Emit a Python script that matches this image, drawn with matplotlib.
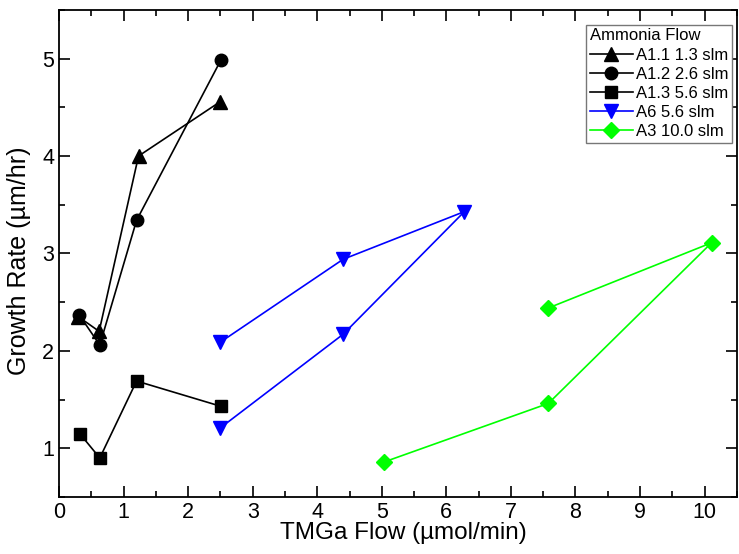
import matplotlib
matplotlib.use("Agg")
import matplotlib.pyplot as plt
from matplotlib.ticker import MultipleLocator

plt.rcParams['font.family'] = ['Liberation Sans', 'DejaVu Sans']

# TMGa flow (umol/min) and growth rate (um/hr) for each run
a11_x = [0.30, 0.62, 1.23, 2.50]
a11_y = [2.35, 2.20, 4.00, 4.56]

a12_x = [0.31, 0.63, 1.20, 2.51]
a12_y = [2.37, 2.06, 3.34, 4.99]

a13_x = [0.32, 0.63, 1.20, 2.51]
a13_y = [1.15, 0.90, 1.69, 1.43]

a6_x = [2.50, 4.40, 6.28, 4.40, 2.50]
a6_y = [2.09, 2.94, 3.43, 2.17, 1.21]

a3_x = [7.58, 10.11, 7.58, 5.04]
a3_y = [2.44, 3.11, 1.46, 0.86]

labels = ["A1.1 1.3 slm", "A1.2 2.6 slm", "A1.3 5.6 slm", "A6 5.6 slm", "A3 10.0 slm"]

fig = plt.figure(figsize=(7.39, 5.54), dpi=100)
ax = fig.add_axes([0.080, 0.103, 0.917, 0.879])

lw = 1.2
ax.plot(a11_x, a11_y, '-^', color='black', lw=lw, ms=10, label=labels[0])
ax.plot(a12_x, a12_y, '-o', color='black', lw=lw, ms=9, label=labels[1])
ax.plot(a13_x, a13_y, '-s', color='black', lw=lw, ms=8, label=labels[2])
ax.plot(a6_x, a6_y, '-v', color='#0000ff', lw=lw, ms=10, label=labels[3])
ax.plot(a3_x, a3_y, '-D', color='#00ff00', lw=lw, ms=8, label=labels[4])

ax.set_xlim(0, 10.5)
ax.set_ylim(0.5, 5.5)
ax.xaxis.set_major_locator(MultipleLocator(1))
ax.xaxis.set_minor_locator(MultipleLocator(0.5))
ax.yaxis.set_major_locator(MultipleLocator(1))
ax.yaxis.set_minor_locator(MultipleLocator(0.5))
ax.tick_params(which='both', direction='in', top=True, right=True, width=1.2)
ax.tick_params(which='major', length=8, labelsize=15.5)
ax.tick_params(which='minor', length=4)
for s in ax.spines.values():
    s.set_linewidth(1.3)

ax.set_xlabel("TMGa Flow (\u00b5mol/min)", fontsize=17.5)
ax.set_ylabel("Growth Rate (\u00b5m/hr)", fontsize=18)
ax.xaxis.set_label_coords(0.508, -0.052)
ax.yaxis.set_label_coords(-0.042, 0.484)

leg = ax.legend(title="Ammonia Flow", loc='upper right', fontsize=12,
                title_fontsize=12, alignment='left', fancybox=False,
                edgecolor='#777777', framealpha=1, borderpad=0.2,
                labelspacing=0.25, handlelength=2.6, handletextpad=0.2,
                borderaxespad=0.0, bbox_to_anchor=(0.993, 0.969))
leg.get_frame().set_linewidth(1.0)

fig.savefig("out.png", dpi=100)
